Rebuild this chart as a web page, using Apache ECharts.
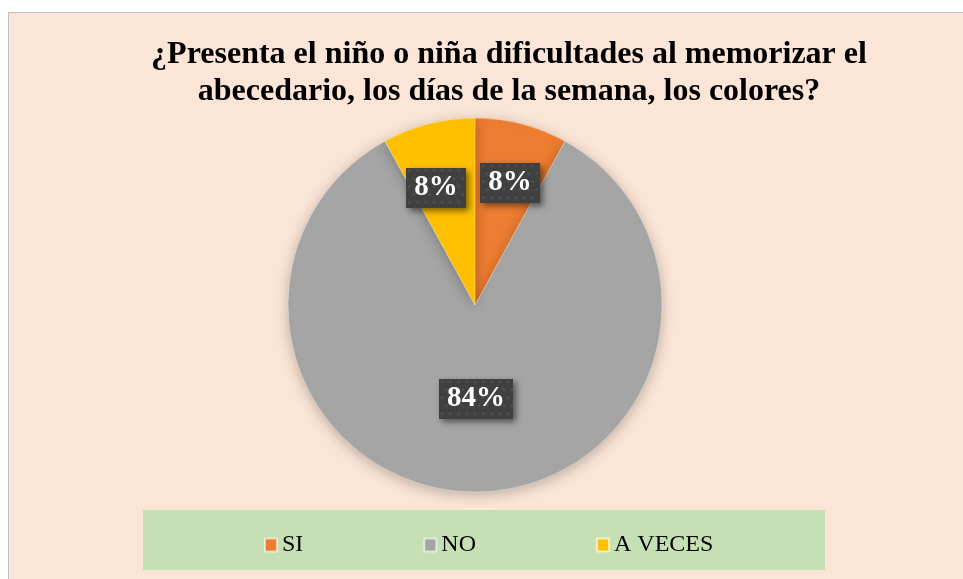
<!DOCTYPE html>
<html>
<head>
<meta charset="utf-8">
<script src="https://cdn.jsdelivr.net/npm/echarts@6/dist/echarts.min.js"></script>
<style>
  html, body { margin: 0; padding: 0; background: #ffffff; }
  #frame { position: absolute; left: 8px; top: 12px; width: 970px; height: 580px;
           background: #FBE5D6; border: 1px solid #BFBFBF; }
  #chart { position: absolute; left: 0; top: 0; width: 963px; height: 579px; }
</style>
</head>
<body>
<div id="frame"></div>
<div id="chart"></div>
<script>
  // datos de la encuesta
  var categorias = ['SI', 'NO', 'A VECES'];
  var valores = [2, 21, 2];
  var colores = ['#ED7D31', '#A5A5A5', '#FFC000'];
  // desplazamiento de cada etiqueta respecto a su posicion "inside"
  var desplaza = [[11, -29], [1, -3], [-15, -24]];

  // fondo punteado de las etiquetas
  function trama(w, h) {
    var c = document.createElement('canvas');
    c.width = w; c.height = h;
    var ctx = c.getContext('2d');
    ctx.fillStyle = '#404040';
    ctx.fillRect(0, 0, w, h);
    ctx.fillStyle = '#555555';
    for (var y = 2, f = 0; y < h; y += 8, f++) {
      for (var x = (f % 2) * 4 + 2; x < w; x += 8) {
        ctx.fillRect(x, y, 2, 2);
      }
    }
    return c;
  }

  var datos = [];
  for (var i = 0; i < categorias.length; i++) {
    datos.push({
      name: categorias[i],
      value: valores[i],
      itemStyle: { color: colores[i] },
      label: {
        offset: desplaza[i],
        backgroundColor: { image: i == 1 ? trama(72, 40) : trama(58, 40) }
      }
    });
  }

  var myChart = echarts.init(document.getElementById('chart'));
  var option = {
    backgroundColor: 'transparent',
    title: {
      text: '¿Presenta el niño o niña dificultades al memorizar el\nabecedario, los días de la semana, los colores?',
      left: 504,
      top: 31,
      textAlign: 'center',
      textStyle: {
        fontFamily: 'Liberation Serif',
        fontWeight: 'bold',
        fontSize: 32,
        lineHeight: 37,
        color: '#000'
      }
    },
    graphic: [{
      type: 'rect',
      z: -1,
      shape: { x: 143, y: 510, width: 682, height: 60 },
      style: { fill: '#C5E0B4' }
    }],
    legend: {
      data: categorias,
      left: 259,
      top: 528,
      itemWidth: 12,
      itemHeight: 13,
      itemGap: 120,
      icon: 'rect',
      textStyle: { fontFamily: 'Liberation Serif', fontSize: 24, color: '#000' }
    },
    series: [{
      type: 'pie',
      center: [475, 305],
      radius: 187,
      startAngle: 90,
      clockwise: true,
      silent: true,
      data: datos,
      itemStyle: {
        borderColor: 'rgba(255,255,255,0.6)',
        borderWidth: 0.5,
        shadowBlur: 14,
        shadowColor: 'rgba(0,0,0,0.25)',
        shadowOffsetY: 3
      },
      label: {
        show: true,
        position: 'inside',
        formatter: function (p) { return Math.round(p.percent) + '%'; },
        fontFamily: 'Liberation Serif',
        fontWeight: 'bold',
        fontSize: 29,
        color: '#ffffff',
        padding: [7, 8, 4, 8],
        shadowBlur: 6,
        shadowColor: 'rgba(0,0,0,0.5)',
        shadowOffsetX: 3,
        shadowOffsetY: 3
      },
      labelLine: { show: false }
    }]
  };
  myChart.setOption(option);
</script>
</body>
</html>
